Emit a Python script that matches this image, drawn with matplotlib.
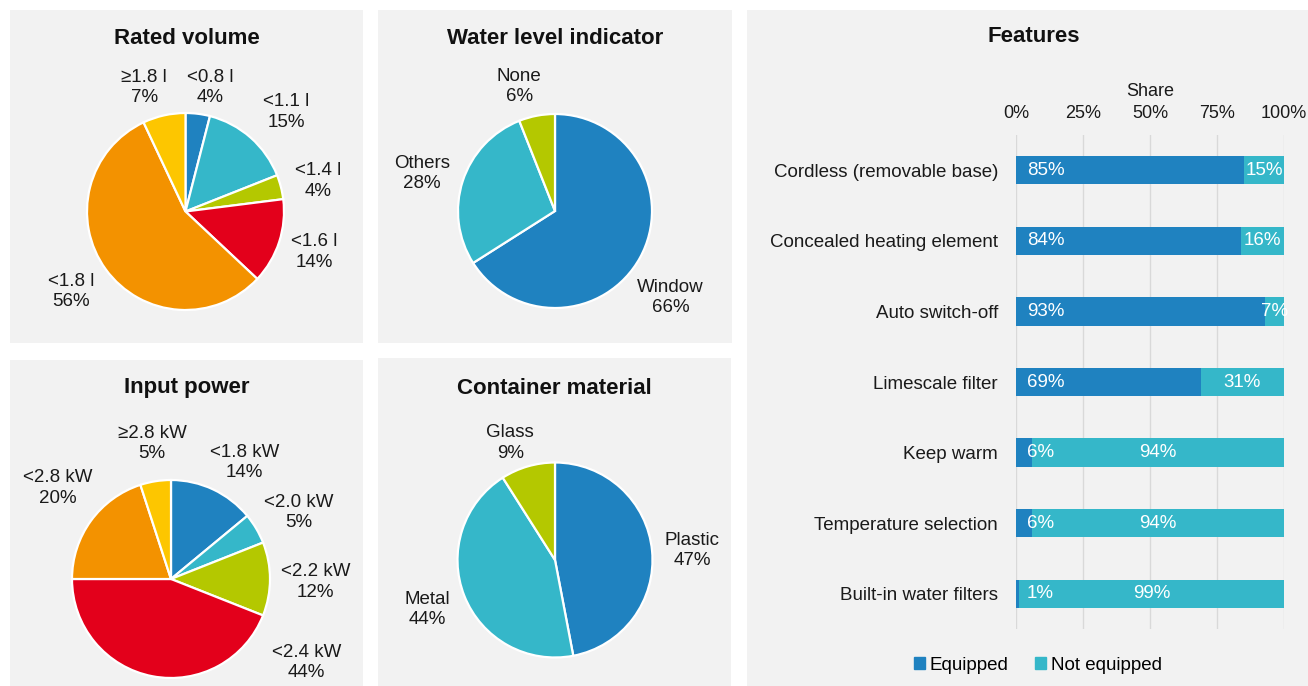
import matplotlib
matplotlib.use("Agg")
import matplotlib.pyplot as plt
from matplotlib.patches import Rectangle, Patch

plt.rcParams['font.family'] = ['Liberation Sans', 'DejaVu Sans']

W, H = 1308, 686
BG = '#f2f2f2'
BLUE, TEAL, GREEN = '#1f82c0', '#35b7c9', '#b4c800'
RED, ORANGE, YELLOW = '#e3001b', '#f39200', '#fdc600'

# pie data
vol_labels = ['<0.8 l', '<1.1 l', '<1.4 l', '<1.6 l', '<1.8 l', '≥1.8 l']
vol_share = [4, 15, 4, 14, 56, 7]

level_labels = ['Window', 'Others', 'None']
level_share = [66, 28, 6]

power_labels = ['<1.8 kW', '<2.0 kW', '<2.2 kW', '<2.4 kW', '<2.8 kW', '≥2.8 kW']
power_share = [14, 5, 12, 44, 20, 5]

material_labels = ['Plastic', 'Metal', 'Glass']
material_share = [47, 44, 9]

# bar data
features = ['Cordless (removable base)', 'Concealed heating element', 'Auto switch-off',
            'Limescale filter', 'Keep warm', 'Temperature selection', 'Built-in water filters']
equipped = [85, 84, 93, 69, 6, 6, 1]
not_equipped = [15, 16, 7, 31, 94, 94, 99]

six_colors = [BLUE, TEAL, GREEN, RED, ORANGE, YELLOW]
three_colors = [BLUE, TEAL, GREEN]

fig = plt.figure(figsize=(W / 100, H / 100), dpi=100)
fig.patch.set_facecolor('white')


def frac(x0, y0, x1, y1):
    return [x0 / W, (H - y1) / H, (x1 - x0) / W, (y1 - y0) / H]


# panel boxes (pixels: left, top, right, bottom)
panels = [(10, 10, 363, 343), (378, 10, 732, 343), (10, 360, 363, 686),
          (378, 358, 731, 686), (747, 10, 1308, 686)]
for x0, y0, x1, y1 in panels:
    fig.patches.append(Rectangle((x0 / W, (H - y1) / H), (x1 - x0) / W, (y1 - y0) / H,
                                 transform=fig.transFigure, facecolor=BG, edgecolor='none', zorder=-5))


def draw_pie(box, title, title_y, center, radius, labels, share, colors, label_pos):
    x0, y0, x1, y1 = box
    ax = fig.add_axes(frac(*box))
    ax.set_facecolor('none')
    cx, cy = center[0], H - center[1]
    ax.pie(share, colors=colors, startangle=90, counterclock=False,
           center=(cx, cy), radius=radius, frame=True,
           wedgeprops=dict(edgecolor='white', linewidth=1.6))
    ax.set_xlim(x0, x1)
    ax.set_ylim(H - y1, H - y0)
    ax.set_aspect('auto')
    ax.set_xticks([])
    ax.set_yticks([])
    for s in ax.spines.values():
        s.set_visible(False)
    for lab, val, (ox, oy) in zip(labels, share, label_pos):
        ax.text(cx + ox * radius, cy + oy * radius, f'{lab}\n{val}%', ha='center', va='center',
                fontsize=13.5, linespacing=1.25, color='#1a1a1a')
    ax.text((x0 + x1) / 2, H - title_y, title, ha='center', va='center',
            fontsize=16, fontweight='bold', color='#111111')


draw_pie(panels[0], 'Rated volume', 38, (185.5, 211.5), 98.5, vol_labels, vol_share, six_colors,
         [(0.25, 1.26), (1.02, 1.01), (1.35, 0.31), (1.31, -0.41), (-1.16, -0.81), (-0.42, 1.26)])
draw_pie(panels[1], 'Water level indicator', 38, (555, 211), 97, level_labels, level_share, three_colors,
         [(1.19, -0.89), (-1.37, 0.39), (-0.37, 1.28)])
draw_pie(panels[2], 'Input power', 388, (171, 579), 99, power_labels, power_share, six_colors,
         [(0.74, 1.18), (1.29, 0.67), (1.46, -0.03), (1.37, -0.84), (-1.14, 0.92), (-0.19, 1.37)])
draw_pie(panels[3], 'Container material', 388, (555, 560), 97.5, material_labels, material_share, three_colors,
         [(1.41, 0.10), (-1.31, -0.51), (-0.46, 1.20)])

# stacked bars
ax = fig.add_axes(frac(1016, 135, 1284, 629))
ax.set_facecolor('none')
ypos = list(range(len(features)))
ax.barh(ypos, equipped, height=0.4, color=BLUE, label='Equipped', zorder=3)
ax.barh(ypos, not_equipped, left=equipped, height=0.4, color=TEAL, label='Not equipped', zorder=3)
for i, (e, n) in enumerate(zip(equipped, not_equipped)):
    ax.text(4, i, f'{e}%', ha='left', va='center', color='white', fontsize=13.5, zorder=4)
    ax.text(e + n / 2, i, f'{n}%', ha='center', va='center', color='white', fontsize=13.5, zorder=4)
ax.set_xlim(0, 100)
ax.set_ylim(len(features) - 0.5, -0.5)
ax.set_yticks(ypos)
ax.set_yticklabels(features, fontsize=13.5, color='#1a1a1a')
ax.set_xticks([0, 25, 50, 75, 100])
ax.set_xticklabels(['0%', '25%', '50%', '75%', '100%'], fontsize=13, color='#1a1a1a')
ax.xaxis.tick_top()
ax.xaxis.set_label_position('top')
ax.set_xlabel('Share', fontsize=13, color='#1a1a1a', labelpad=7)
ax.tick_params(axis='x', length=0, pad=9)
ax.tick_params(axis='y', length=0, pad=13)
ax.grid(axis='x', color='#d9d9d9', linewidth=1, zorder=0)
for s in ax.spines.values():
    s.set_visible(False)

fig.text(1034 / W, 1 - 37 / H, 'Features', ha='center', va='center', fontsize=16,
         fontweight='bold', color='#111111')

handles = [Patch(color=BLUE), Patch(color=TEAL)]
fig.legend(handles, ['Equipped', 'Not equipped'], loc='center', bbox_to_anchor=(1038 / W, 1 - 665 / H),
           ncol=2, frameon=False, fontsize=13.5, handlelength=0.6, handleheight=0.6,
           handletextpad=0.25, columnspacing=1.4)

fig.savefig('out.png', dpi=100, facecolor='white')
